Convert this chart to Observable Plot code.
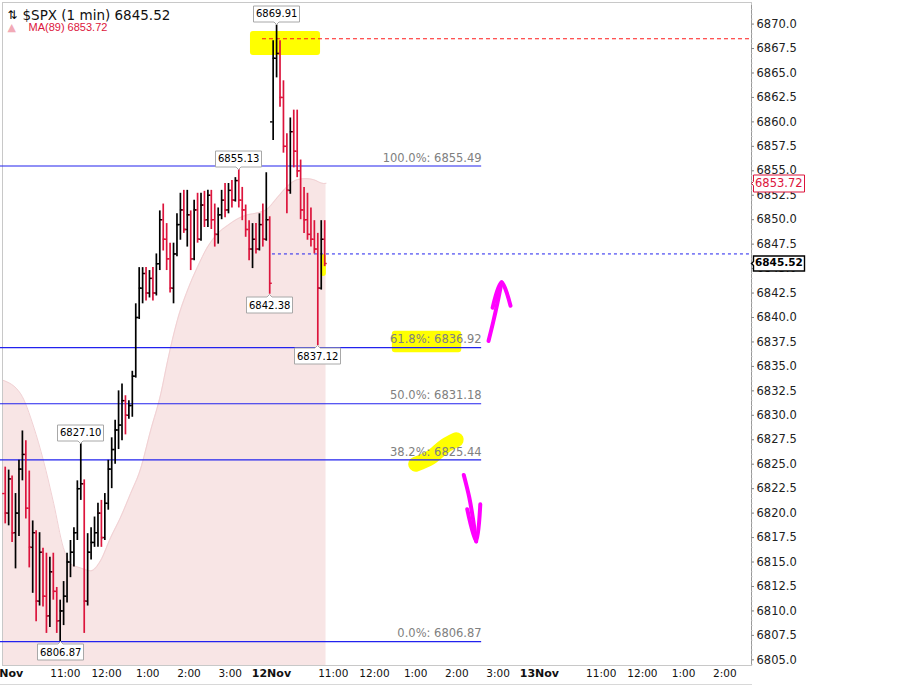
<!DOCTYPE html>
<html>
<head>
<meta charset="utf-8">
<script src="https://cdn.jsdelivr.net/npm/d3@7"></script>
<script src="https://cdn.jsdelivr.net/npm/@observablehq/plot@0.6"></script>
<style>
  body { margin: 0; background: #fff; }
  #chart svg { display: block; }
  #pane { width: 752px; height: 2px; border-top: 1px solid #d8d8d8; }
</style>
</head>
<body>
<div id="chart"></div>
<div id="pane"></div>
<script>
// time = trading minutes from 11Nov 9:30 (12Nov opens at 390, 13Nov at 780)
// 5 minute bars
const barTime = d3.range(94).map(k => 5 * k + 2.5)
const barOpen = [
  6822, 6820, 6823.5, 6818, 6820, 6824.5, 6826, 6820.5, 6816.5, 6818,
  6811, 6816, 6811.5, 6809.5, 6814, 6812, 6809, 6810, 6811.5, 6815,
  6816, 6818, 6822.5, 6823, 6811, 6816, 6817, 6818, 6820, 6817.5,
  6821, 6824.5, 6826.5, 6828.5, 6829, 6831.5, 6830, 6831, 6834, 6840,
  6843, 6844.5, 6842.5, 6844, 6842.5, 6845.5, 6850, 6848, 6846, 6843,
  6846.5, 6849.5, 6851, 6849, 6850.5, 6846, 6851, 6848, 6851.5, 6850,
  6852.5, 6850, 6848.5, 6850.5, 6852, 6851, 6853, 6852, 6854, 6852,
  6851, 6849, 6847, 6848, 6847, 6849.5, 6848, 6850, 6860, 6866.5,
  6867, 6862.5, 6857.5, 6853, 6859, 6857, 6855, 6851, 6850, 6848.5,
  6848, 6847, 6843, 6848
]
const barHigh = [
  6824.7, 6824.4, 6823.8, 6822.0, 6825.4, 6828.4, 6827.4, 6824.3, 6819.2, 6818.2,
  6818.0, 6816.4, 6815.9, 6815.5, 6815.9, 6812.4, 6811.1, 6813.0, 6815.9, 6817.2,
  6818.5, 6823.3, 6827.1, 6823.4, 6817.9, 6818.5, 6819.6, 6821.0, 6821.3, 6822.0,
  6825.4, 6827.7, 6829.5, 6832.5, 6833.2, 6832.0, 6831.5, 6834.5, 6841.4, 6845.1,
  6845.1, 6845.1, 6844.8, 6845.1, 6846.5, 6850.9, 6851.6, 6849.6, 6847.6, 6847.6,
  6850.6, 6852.7, 6853.0, 6853.0, 6850.9, 6852.0, 6852.7, 6852.7, 6852.9, 6853.0,
  6853.0, 6851.6, 6851.2, 6853.0, 6853.7, 6853.7, 6854.0, 6854.3, 6855.13, 6853.3,
  6851.5, 6849.9, 6849.6, 6849.6, 6850.6, 6851.6, 6854.8, 6850.3, 6868.3, 6869.91,
  6868.3, 6864.2, 6858.8, 6860.4, 6861.2, 6861.2, 6856.1, 6853.3, 6852.7, 6851.2,
  6849.9, 6848.6, 6849.9, 6849.9
]
const barLow = [
  6818.9, 6818.7, 6817.0, 6814.3, 6817.6, 6823.3, 6819.4, 6814.4, 6811.8, 6808.9,
  6810.5, 6810.4, 6807.7, 6808.3, 6811.1, 6807.7, 6806.87, 6808.5, 6810.8, 6813.4,
  6814.5, 6817.2, 6821.3, 6807.7, 6810.5, 6815.2, 6816.5, 6816.5, 6816.5, 6817.2,
  6820.3, 6822.5, 6825.0, 6826.5, 6827.4, 6828.0, 6829.6, 6829.8, 6833.8, 6839.8,
  6841.4, 6841.7, 6842.0, 6841.7, 6842.2, 6844.8, 6846.8, 6844.8, 6842.5, 6841.4,
  6846.2, 6847.9, 6848.6, 6847.2, 6844.8, 6845.8, 6847.6, 6847.8, 6849.2, 6849.2,
  6849.0, 6847.2, 6847.5, 6850.0, 6850.2, 6850.6, 6851.2, 6851.8, 6851.2, 6849.9,
  6848.2, 6845.8, 6845.0, 6846.5, 6846.8, 6847.2, 6847.8, 6842.38, 6858.1, 6864.5,
  6861.5, 6856.8, 6850.6, 6852.6, 6855.3, 6854.3, 6850.0, 6848.6, 6847.9, 6847.2,
  6846.5, 6837.12, 6842.8, 6845.2
]
const barClose = [
  6820, 6823.5, 6818, 6820, 6824.5, 6826, 6820.5, 6816.5, 6818, 6811,
  6816, 6811.5, 6809.5, 6814, 6812, 6809, 6810, 6811.5, 6815, 6816,
  6818, 6822.5, 6823, 6811, 6816, 6817, 6818, 6820, 6817.5, 6821,
  6824.5, 6826.5, 6828.5, 6829, 6831.5, 6830, 6831, 6834, 6840, 6843,
  6844.5, 6842.5, 6844, 6842.5, 6845.5, 6850, 6848, 6846, 6843, 6846.5,
  6849.5, 6851, 6849, 6850.5, 6846, 6851, 6848, 6851.5, 6850, 6852.5,
  6850, 6848.5, 6850.5, 6852, 6851, 6853, 6852, 6854, 6852, 6851,
  6849, 6847, 6848, 6847, 6849.5, 6848, 6850, 6843.5, 6866.5, 6867,
  6862.5, 6857.5, 6853, 6859, 6857, 6855, 6851, 6850, 6848.5, 6848,
  6847, 6843, 6848, 6845.52
]

// MA(89) read along its edge
const maTime = [-1.5, 25, 44, 58, 73, 87, 98, 112, 127, 141, 156, 170, 185, 199, 214, 229, 239,
  253, 268, 282, 297, 312, 326, 341, 355, 370, 384, 399, 413, 428, 440, 451, 466, 469.5]
const maValue = [6833.6, 6832.2, 6828.8, 6825.4, 6821.0, 6816.5, 6814.8, 6814.4, 6814.1, 6815.1,
  6817.5, 6819.5, 6822.0, 6824.4, 6828.4, 6832.2, 6835.6, 6839.7, 6842.8, 6845.1, 6847.2, 6848.6,
  6849.4, 6850.1, 6850.5, 6850.7, 6851.1, 6852.3, 6853.4, 6854.1, 6854.2, 6854.1, 6853.7, 6853.72]

const lastPrice = 6845.52
const maLast = 6853.72

// fibonacci retracement
const fibPct = ["100.0%", "61.8%", "50.0%", "38.2%", "0.0%"]
const fibPrice = [6855.49, 6836.92, 6831.18, 6825.44, 6806.87]
const fibEnd = 696

// swing high / low callouts
const calloutTime = [397.5, 342.5, 112.5, 387.5, 457.5, 82.5]
const calloutPrice = [6869.91, 6855.13, 6827.10, 6842.38, 6837.12, 6806.87]
const calloutSide = ["above", "above", "above", "below", "below", "below"]

// dashed lines
const highLine = 6868.5, highLineStart = 377
const lastLine = 6846.5, lastLineStart = 391.5

// axes
const yTicks = [6805, 6807.5, 6810, 6812.5, 6815, 6817.5, 6820, 6822.5, 6825, 6827.5, 6830,
  6832.5, 6835, 6837.5, 6840, 6842.5, 6845, 6847.5, 6850, 6852.5, 6855, 6857.5, 6860, 6862.5,
  6865, 6867.5, 6870]
const hourTicks = [90, 150, 210, 270, 330, 480, 540, 600, 660, 720, 870, 930, 990, 1050]
const hourLabels = ["11:00", "12:00", "1:00", "2:00", "3:00", "11:00", "12:00", "1:00", "2:00",
  "3:00", "11:00", "12:00", "1:00", "2:00"]
const dayTicks = [0, 390, 780]
const dayLabels = ["11Nov", "12Nov", "13Nov"]

// hand drawn marks on the screenshot: yellow highlighter, pink arrows
const hlX1 = [359.5, 566, 462]
const hlX2 = [461.5, 667, 470]
const hlY1 = [6866.8, 6836.4, 6844.2]
const hlY2 = [6869.25, 6838.6, 6846.45]
const hlStroke = [[600, 6825.0], [622, 6825.7], [643, 6826.9], [659, 6827.5]]
const arrowUp = [[706, 6837.6], [713, 6839.6], [719, 6841.5], [725, 6843.6]]
const arrowUpHead = [[712, 6841.0], [725, 6843.6], [738, 6841.2]]
const arrowDown = [[670, 6823.9], [678, 6821.6], [683, 6819.6], [688, 6817.1]]
const arrowDownHead = [[675, 6820.4], [688, 6817.1], [694, 6820.9]]

const xMin = -1.46, xMax = 1088.8
const yMin = 6804.42, yMax = 6871.9

const bars = barOpen.map((o, i) => ({t: barTime[i], open: o, high: barHigh[i], low: barLow[i], close: barClose[i]}))
const ma = maTime.map((t, i) => ({t, v: maValue[i]}))
const fib = fibPrice.map((p, i) => ({p, label: `${fibPct[i]}: ${p.toFixed(2)}`}))
const callouts = calloutTime.map((t, i) => ({t, p: calloutPrice[i], side: calloutSide[i], label: calloutPrice[i].toFixed(2)}))
const hl = hlX1.map((x1, i) => ({x1, x2: hlX2[i], y1: hlY1[i], y2: hlY2[i]}))
const arrows = [arrowUp, arrowUpHead, arrowDown, arrowDownHead]
  .flatMap((pts, k) => pts.map(([t, p]) => ({t, p, k})))

const barColor = d => d.close >= d.open ? "#000000" : "#dc143c"
const font = "DejaVu Sans"

// tip text colour / weight
const textStyle = (color, weight) => (index, scales, values, dims, context, next) => {
  const g = next(index, scales, values, dims, context)
  d3.select(g).selectAll("text").attr("fill", color).attr("font-weight", weight)
  return g
}

let chart = Plot.plot({
  width: 901,
  height: 684,
  marginLeft: 2,
  marginRight: 150,
  marginTop: 5,
  marginBottom: 19,
  x: { domain: [xMin, xMax], axis: null },
  y: { domain: [yMin, yMax], axis: null },
  style: { fontFamily: font, fontSize: "10px", background: "#fff", overflow: "visible" },
  marks: [
    Plot.areaY(ma, { x: "t", y1: yMin, y2: "v", fill: "#f8e5e5", curve: "monotone-x" }),
    Plot.line(ma, { x: "t", y: "v", stroke: "#f1d0d3", strokeWidth: 1, curve: "monotone-x" }),

    Plot.rect(hl, { x1: "x1", x2: "x2", y1: "y1", y2: "y2", fill: "#ffff00", rx: 3 }),
    Plot.line(hlStroke, { x: d => d[0], y: d => d[1], stroke: "#ffff00", strokeWidth: 15, strokeLinecap: "round", curve: "catmull-rom" }),

    Plot.frame({ stroke: "#c8c8c8", insetTop: -3 }),
    Plot.ruleX([xMax], { stroke: "#999" }),

    // fibonacci
    Plot.ruleY(fib, { y: "p", x1: xMin, x2: fibEnd, stroke: "#2222ee", strokeWidth: 1.2, insetLeft: -3 }),
    Plot.text(fib, { x: fibEnd, y: "p", text: "label", textAnchor: "end", dy: -8, fill: "#808080", fontSize: 11.5 }),

    // dashed levels
    Plot.ruleY([highLine], { x1: highLineStart, x2: xMax, stroke: "#ff1a1a", strokeDasharray: "4,3" }),
    Plot.ruleY([lastLine], { x1: lastLineStart, x2: xMax, stroke: "#2222ee", strokeDasharray: "3,3" }),

    // OHLC bars
    Plot.ruleX(bars, { x: "t", y1: "low", y2: "high", stroke: barColor, strokeWidth: 1.7 }),
    Plot.ruleY(bars, { y: "open", x1: "t", x2: "t", insetLeft: -2.6, stroke: barColor, strokeWidth: 1.4 }),
    Plot.ruleY(bars, { y: "close", x1: "t", x2: "t", insetRight: -2.6, stroke: barColor, strokeWidth: 1.4 }),

    // pink arrows
    Plot.line(arrows, { x: "t", y: "p", z: "k", stroke: "#ff00ff", strokeWidth: 4, strokeLinecap: "round", strokeLinejoin: "round", curve: "catmull-rom" }),

    // y axis
    Plot.ruleY(d3.range(6804.5, 6871.9, 0.5), { x1: xMax, x2: xMax, insetRight: -1.5, stroke: "#c0c0c0" }),
    Plot.ruleY(yTicks, { x1: xMax, x2: xMax, insetRight: -3, stroke: "#888" }),
    Plot.text(yTicks, { y: d => d, text: d => d.toFixed(1), frameAnchor: "right", dx: 5, textAnchor: "start", fontSize: 11.5, fill: "#222" }),

    // x axis
    Plot.text(hourTicks, { x: d => d, text: (d, i) => hourLabels[i], frameAnchor: "bottom", dy: 11, fontSize: 10.5, fill: "#111" }),
    Plot.text(dayTicks, { x: d => d, text: (d, i) => dayLabels[i], frameAnchor: "bottom", dy: 11, fontSize: 11, fontWeight: "bold", fill: "#111" }),

    // callouts
    Plot.tip(callouts.filter(d => d.side === "above"), {
      x: "t", y: "p", title: "label", anchor: "bottom", pointerSize: 5, textPadding: 2.5,
      fontSize: 10, fontFamily: font, stroke: "#a8a8a8", fill: "#fff", pathFilter: "none",
      render: textStyle("#000", "normal")
    }),
    Plot.tip(callouts.filter(d => d.side === "below"), {
      x: "t", y: "p", title: "label", anchor: "top", pointerSize: 5, textPadding: 2.5,
      fontSize: 10, fontFamily: font, stroke: "#a8a8a8", fill: "#fff", pathFilter: "none",
      render: textStyle("#000", "normal")
    }),

    // price tags on the axis
    Plot.tip([maLast], {
      x: xMax, y: d => d, title: d => d.toFixed(2), anchor: "left", pointerSize: 4, textPadding: 1.5,
      fontSize: 11.5, fontFamily: font, stroke: "#dc143c", fill: "#fff", pathFilter: "none",
      render: textStyle("#dc143c", "normal")
    }),
    Plot.tip([lastPrice], {
      x: xMax, y: d => d, title: d => d.toFixed(2), anchor: "left", pointerSize: 4, textPadding: 1.5,
      fontSize: 10.5, fontFamily: font, stroke: "#000", fill: "#fff", pathFilter: "none", strokeWidth: 1.4,
      render: textStyle("#000", "bold")
    }),

    // legend
    Plot.text(["\u21C5"], { frameAnchor: "top-left", dx: 5, dy: 4.5, fontSize: 12, textAnchor: "start" }),
    Plot.text([`$SPX (1 min) ${lastPrice.toFixed(2)}`], { frameAnchor: "top-left", dx: 20, dy: 4.5, fontSize: 13.5, textAnchor: "start", fill: "#111" }),
    Plot.text(["\u25B2"], { frameAnchor: "top-left", dx: 5, dy: 17.5, fontSize: 11, textAnchor: "start", fill: "#f2aab6" }),
    Plot.text([`MA(89) ${maLast.toFixed(2)}`], { frameAnchor: "top-left", dx: 26, dy: 17.5, fontSize: 11, fontFamily: "Liberation Sans", textAnchor: "start", fill: "#dc143c" })
  ]
})

d3.select('#chart').append(() => chart)
</script>
</body>
</html>
